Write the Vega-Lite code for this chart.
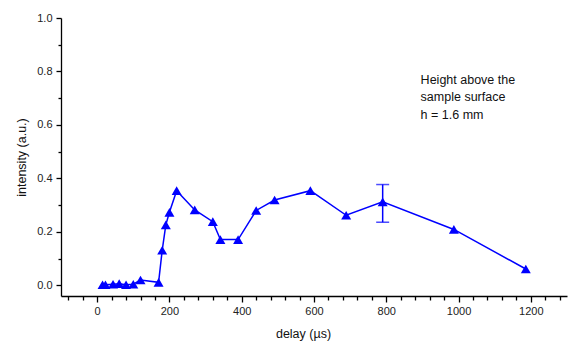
{
  "$schema": "https://vega.github.io/schema/vega-lite/v6.json",
  "width": 506,
  "height": 278,
  "autosize": "none",
  "padding": {"left": 61, "top": 18, "right": 9, "bottom": 46},
  "background": "white",
  "config": {
    "view": {"stroke": null},
    "font": "Liberation Sans",
    "axis": {
      "grid": false,
      "domainColor": "#000",
      "domainWidth": 1.3,
      "tickColor": "#000",
      "tickWidth": 1.3,
      "labelFont": "Liberation Sans",
      "labelFontSize": 11,
      "labelColor": "#222",
      "titleFont": "Liberation Sans",
      "titleFontSize": 12.5,
      "titleFontWeight": "normal",
      "titleColor": "#111"
    }
  },
  "resolve": {"axis": {"x": "independent", "y": "independent"}},
  "datasets": {
    "pts": [
      {"delay": 15, "intensity": 0.002},
      {"delay": 23, "intensity": 0.002},
      {"delay": 44, "intensity": 0.004},
      {"delay": 61, "intensity": 0.006},
      {"delay": 80, "intensity": 0.002},
      {"delay": 100, "intensity": 0.004},
      {"delay": 120, "intensity": 0.02},
      {"delay": 170, "intensity": 0.011},
      {"delay": 180, "intensity": 0.131},
      {"delay": 190, "intensity": 0.226},
      {"delay": 200, "intensity": 0.273},
      {"delay": 220, "intensity": 0.354},
      {"delay": 270, "intensity": 0.282},
      {"delay": 320, "intensity": 0.238},
      {"delay": 341, "intensity": 0.171},
      {"delay": 390, "intensity": 0.171},
      {"delay": 440, "intensity": 0.28},
      {"delay": 491, "intensity": 0.319},
      {"delay": 590, "intensity": 0.354},
      {"delay": 689, "intensity": 0.262},
      {"delay": 790, "intensity": 0.312, "lo": 0.236, "hi": 0.377},
      {"delay": 987, "intensity": 0.209},
      {"delay": 1186, "intensity": 0.061}
    ],
    "note": [
      {"delay": 895, "intensity": 0.792, "label": ["Height above the", "sample surface", "h = 1.6 mm"]}
    ]
  },
  "layer": [
    {
      "data": {"name": "pts"},
      "mark": {"type": "line", "color": "#0000FF", "strokeWidth": 1.5},
      "encoding": {
        "x": {
          "field": "delay", "type": "quantitative",
          "scale": {"domain": [-100, 1300], "nice": false, "zero": false},
          "axis": {
            "orient": "bottom",
            "title": "delay (µs)",
            "values": [0, 200, 400, 600, 800, 1000, 1200],
            "format": "d",
            "tickSize": 6,
            "labelPadding": 3,
            "titlePadding": 11,
            "titleX": 242,
            "labelFlush": false,
            "labelOverlap": false
          }
        },
        "y": {
          "field": "intensity", "type": "quantitative",
          "scale": {"domain": [-0.04, 1.0], "nice": false, "zero": false},
          "axis": {
            "orient": "left",
            "title": "intensity (a.u.)",
            "values": [0, 0.2, 0.4, 0.6, 0.8, 1.0],
            "format": ".1f",
            "tickSize": 5,
            "labelPadding": 4,
            "titlePadding": 8,
            "labelFlush": false,
            "labelOverlap": false
          }
        }
      }
    },
    {
      "data": {"name": "pts"},
      "mark": {"type": "point", "shape": "triangle-up", "filled": true, "color": "#0000FF", "opacity": 1, "size": 100},
      "encoding": {
        "x": {
          "field": "delay", "type": "quantitative",
          "axis": {
            "orient": "bottom",
            "title": null,
            "labels": false,
            "domain": false,
            "tickSize": 4,
            "values": [-80, -40, 40, 80, 120, 160, 240, 280, 320, 360, 440, 480, 520, 560, 640, 680, 720, 760, 840, 880, 920, 960, 1040, 1080, 1120, 1160, 1240, 1280]
          }
        },
        "y": {
          "field": "intensity", "type": "quantitative",
          "axis": {
            "orient": "left",
            "title": null,
            "labels": false,
            "domain": false,
            "tickSize": 3,
            "values": [0.1, 0.3, 0.5, 0.7, 0.9]
          }
        }
      }
    },
    {
      "data": {"name": "pts"},
      "transform": [{"filter": "isValid(datum.lo)"}],
      "mark": {"type": "rule", "color": "#0000FF", "strokeWidth": 1.5},
      "encoding": {
        "x": {"field": "delay", "type": "quantitative", "axis": null},
        "y": {"field": "lo", "type": "quantitative", "axis": null},
        "y2": {"field": "hi"}
      }
    },
    {
      "data": {"name": "pts"},
      "transform": [{"filter": "isValid(datum.lo)"}, {"fold": ["lo", "hi"], "as": ["end", "val"]}],
      "mark": {"type": "tick", "orient": "horizontal", "color": "#0000FF", "size": 13, "thickness": 1.5},
      "encoding": {
        "x": {"field": "delay", "type": "quantitative", "axis": null},
        "y": {"field": "val", "type": "quantitative", "axis": null}
      }
    },
    {
      "data": {"name": "note"},
      "mark": {"type": "text", "align": "left", "baseline": "top", "fontSize": 12.5, "lineHeight": 17.5, "color": "#111", "font": "Liberation Sans"},
      "encoding": {
        "x": {"field": "delay", "type": "quantitative", "axis": null},
        "y": {"field": "intensity", "type": "quantitative", "axis": null},
        "text": {"field": "label"}
      }
    }
  ]
}
